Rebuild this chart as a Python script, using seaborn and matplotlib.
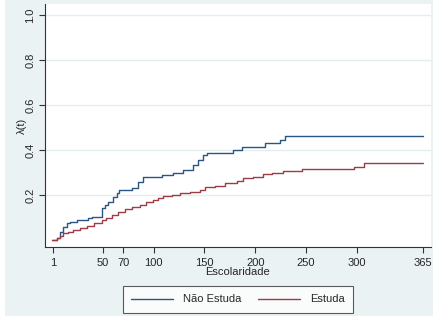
import matplotlib
matplotlib.use("Agg")
import matplotlib.pyplot as plt
import seaborn as sns
import pandas as pd
from matplotlib.patches import Rectangle

# step points (time, hazard)
nao_x = [0, 4.6, 7.9, 11.1, 14.5, 17.7, 24.3, 35.7, 39.1, 49.2, 52.2, 55.1, 60.0, 63.7,
         65.9, 78.4, 84.6, 89.5, 107.9, 119, 128.9, 138.7, 143.6, 148.6, 152.2, 178.1,
         186.6, 209.6, 224.3, 229.2, 365]
nao_y = [0, 0.007, 0.037, 0.059, 0.074, 0.081, 0.089, 0.096, 0.104, 0.142, 0.156, 0.17,
         0.19, 0.207, 0.222, 0.231, 0.259, 0.281, 0.289, 0.3, 0.311, 0.333, 0.356, 0.378,
         0.385, 0.4, 0.415, 0.43, 0.444, 0.463, 0.463]

est_x = [0, 4.6, 7.9, 11.1, 15.8, 21, 27.6, 34.2, 41.3, 48.9, 53.1, 58.7, 64.9, 71.8,
         78.7, 86.6, 92.5, 99.7, 104.3, 109.5, 118.1, 125.9, 135.8, 145.6, 150.5, 160.4,
         170.2, 181.7, 187.9, 197.8, 207.6, 216.2, 227.3, 245.7, 297.1, 307.3, 365]
est_y = [0, 0.007, 0.02, 0.03, 0.037, 0.044, 0.053, 0.062, 0.075, 0.089, 0.1, 0.111,
         0.124, 0.136, 0.146, 0.156, 0.167, 0.178, 0.187, 0.196, 0.202, 0.207, 0.215,
         0.222, 0.237, 0.24, 0.252, 0.262, 0.274, 0.281, 0.293, 0.3, 0.308, 0.314, 0.323,
         0.341, 0.341]

groups = ["Não Estuda", "Estuda"]
xticks = [1, 50, 70, 100, 150, 200, 250, 300, 365]
yticks = [0.2, 0.4, 0.6, 0.8, 1.0]

df = pd.concat([
    pd.DataFrame({"t": nao_x, "h": nao_y, "grupo": groups[0]}),
    pd.DataFrame({"t": est_x, "h": est_y, "grupo": groups[1]}),
])

sns.set_style("white")
plt.rcParams["font.family"] = ["Liberation Sans", "DejaVu Sans"]
bg = "#eaf2f3"

fig = plt.figure(figsize=(4.35, 3.16), dpi=100, facecolor=bg)
fig.patches.append(Rectangle((0, 0), 5 / 435, 1, transform=fig.transFigure,
                             facecolor="white", edgecolor="none", zorder=-1))
fig.patches.append(Rectangle((433 / 435, 0), 2 / 435, 1, transform=fig.transFigure,
                             facecolor="white", edgecolor="none", zorder=-1))
ax = fig.add_axes([45 / 435, 1 - 247 / 316, 386 / 435, 243 / 316])

sns.lineplot(data=df, x="t", y="h", hue="grupo", hue_order=groups,
             palette=["#2a5482", "#9c3c44"], estimator=None, drawstyle="steps-post",
             linewidth=1.0, ax=ax)

ax.set_xlim(-6.9, 372.9)
ax.set_ylim(-0.031, 1.049)
ax.set_xticks(xticks)
ax.set_xticklabels([str(v) for v in xticks])
ax.set_yticks(yticks)
ax.set_yticklabels(["0.2", "0.4", "0.6", "0.8", "1.0"], rotation=90, va="center")
for y in yticks:
    ax.axhline(y, color="#e2eef0", linewidth=1.0, zorder=0)

for s in ["top", "right"]:
    ax.spines[s].set_visible(False)
for s in ["left", "bottom"]:
    ax.spines[s].set_color("#333333")
    ax.spines[s].set_linewidth(0.8)
ax.tick_params(axis="x", pad=4)
ax.tick_params(axis="y", pad=3)
ax.tick_params(axis="both", direction="out", length=4, width=0.8, color="#333333",
               labelsize=8, bottom=True, left=True)

ax.set_xlabel("Escolaridade", fontsize=8, labelpad=-1)
ax.set_ylabel("λ(t)", fontsize=8, labelpad=-1)

handles, labels = ax.get_legend_handles_labels()
ax.get_legend().remove()
leg = fig.legend(handles, labels, loc="center", bbox_to_anchor=(238 / 435, 1 - 299.5 / 316),
                 ncol=2, fontsize=8, frameon=True, fancybox=False, handlelength=3.8,
                 handletextpad=0.9, columnspacing=1.5, borderpad=0.75)
leg.get_frame().set_edgecolor("#333333")
leg.get_frame().set_linewidth(0.8)
for line in leg.get_lines():
    line.set_linewidth(1.0)

fig.savefig("out.png", dpi=100, facecolor=bg)
